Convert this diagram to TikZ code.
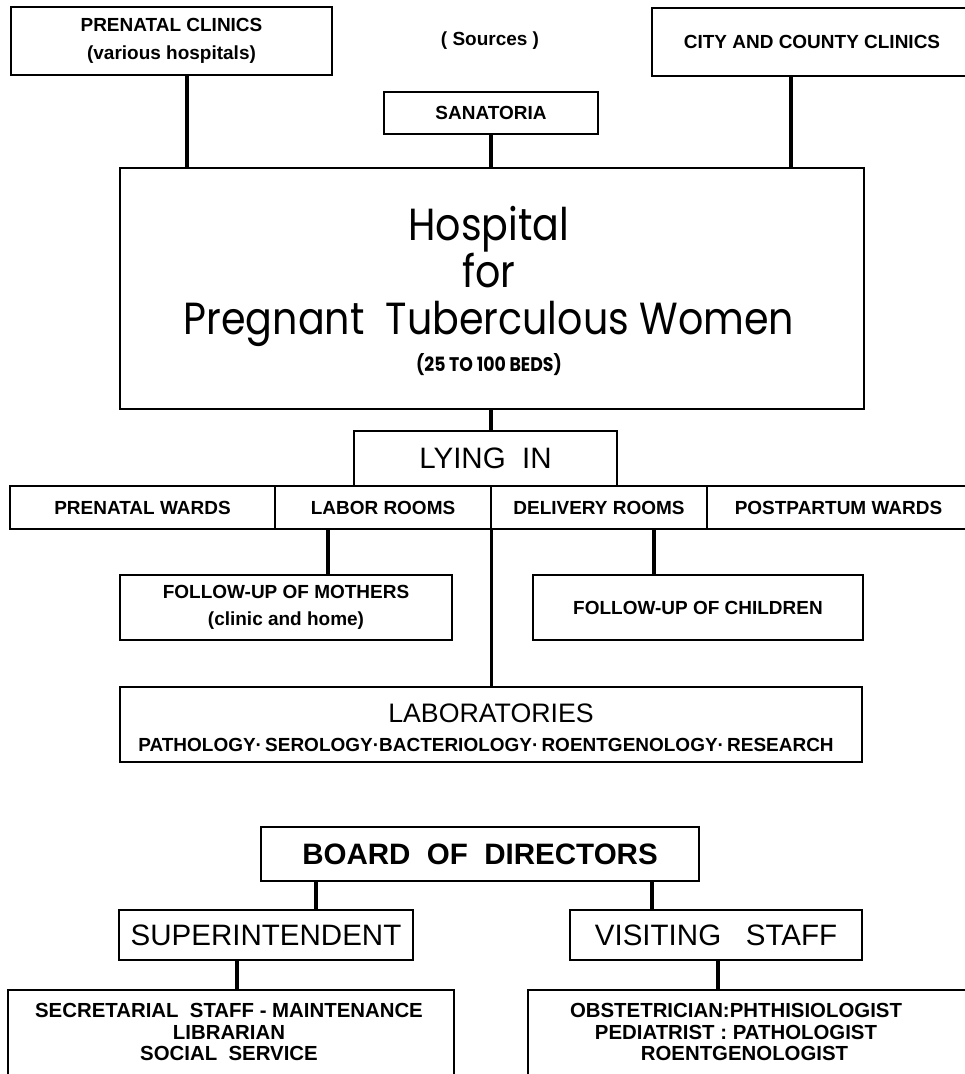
\documentclass[tikz,border=0pt]{standalone}
\usepackage{fontspec}
\setmainfont{Liberation Sans}
\newfontfamily\titlefont[FakeStretch=0.88]{Poppins}
\newcommand{\pxu}{0.025cm}

\begin{document}
\begin{tikzpicture}
[x=0.025cm, y=-0.025cm,
 lineDecorate/.style={line width=2.2pt},
 nodeDecorate/.style={shape=rectangle, draw, line width=1pt, inner sep=0pt, align=center},
 smallFont/.style={font=\bfseries\fontsize{13.5}{19.5}\selectfont, align=center},
 lowFont/.style={font=\bfseries\fontsize{14.5}{15.2}\selectfont, align=center},
 bigFont/.style={font=\fontsize{21}{25}\selectfont},
 titleFont/.style={font=\titlefont\fontsize{32}{32}\selectfont, anchor=base}]

\useasboundingbox (0,0) rectangle (965,1074);

\node (pc) at (171.5,41) [nodeDecorate, smallFont, minimum width=321*\pxu, minimum height=68*\pxu] {PRENATAL CLINICS\\(various hospitals)};
\node (src) at (490,41) [smallFont] {( Sources )};
\node (city) at (812,42) [nodeDecorate, smallFont, minimum width=320*\pxu, minimum height=68*\pxu] {CITY AND COUNTY CLINICS};
\node (sana) at (491,113) [nodeDecorate, smallFont, minimum width=214*\pxu, minimum height=42*\pxu] {SANATORIA};

\node (hosp) at (492,288.5) [nodeDecorate, minimum width=744*\pxu, minimum height=241*\pxu] {};
\node (h1) at (489,240) [titleFont] {Hospital};
\node (h2) at (489,287) [titleFont] {for};
\node (h3) at (489,334) [titleFont] {Pregnant\ \ Tuberculous Women};
\node (h4) at (489,371) [titleFont, font=\titlefont\bfseries\fontsize{14}{14}\selectfont] {(25 TO 100 BEDS)};

\node (lying) at (485.5,458.5) [nodeDecorate, bigFont, minimum width=263*\pxu, minimum height=55*\pxu] {LYING\ \ IN};

\foreach \lbl/\xa/\xb [count=\i] in {PRENATAL WARDS/10/275, LABOR ROOMS/275/491, DELIVERY ROOMS/491/707, POSTPARTUM WARDS/707/970}
{
          \node (R\i) at ({(\xa+\xb)/2},507.5) [nodeDecorate, smallFont, minimum width={(\xb-\xa)*\pxu}, minimum height=43*\pxu] {\lbl};
}

\node (moth) at (286,607.5) [nodeDecorate, smallFont, minimum width=332*\pxu, minimum height=65*\pxu] {FOLLOW-UP OF MOTHERS\\(clinic and home)};
\node (chil) at (698,607.5) [nodeDecorate, smallFont, minimum width=330*\pxu, minimum height=65*\pxu] {FOLLOW-UP OF CHILDREN};

\node (labs) at (491,724.5) [nodeDecorate, minimum width=742*\pxu, minimum height=75*\pxu] {};
\node (labsA) at (491,713) [font=\fontsize{19}{22}\selectfont] {LABORATORIES};
\node (labsB) at (486,745) [smallFont] {PATHOLOGY·\,SEROLOGY·BACTERIOLOGY·\,ROENTGENOLOGY·\,RESEARCH};

\node (board) at (480,854) [nodeDecorate, bigFont, font=\bfseries\fontsize{21}{25}\selectfont, minimum width=438*\pxu, minimum height=54*\pxu] {BOARD\ \ OF\ \ DIRECTORS};
\node (sup) at (266,935) [nodeDecorate, bigFont, minimum width=294*\pxu, minimum height=50*\pxu] {SUPERINTENDENT};
\node (vis) at (716,935) [nodeDecorate, bigFont, minimum width=292*\pxu, minimum height=50*\pxu] {VISITING\ \ \ STAFF};

\node (staffA) at (231,1035) [nodeDecorate, minimum width=446*\pxu, minimum height=90*\pxu] {};
\node (staffAtext) at (229,1032) [lowFont] {SECRETARIAL\ \ STAFF - MAINTENANCE\\LIBRARIAN\\SOCIAL\ \ SERVICE};
\node (staffB) at (750,1035) [nodeDecorate, minimum width=444*\pxu, minimum height=90*\pxu] {};
\node (staffBtext) at (736,1032) [lowFont] {OBSTETRICIAN:PHTHISIOLOGIST\\PEDIATRIST : PATHOLOGIST\\\ \ \ ROENTGENOLOGIST};

\coordinate (k1) at (187,0);
\coordinate (k2) at (491,0);
\coordinate (k3) at (791,0);
\coordinate (k4) at (328,0);
\coordinate (k5) at (654,0);
\coordinate (k6) at (316,0);
\coordinate (k7) at (652,0);
\coordinate (k8) at (237,0);
\coordinate (k9) at (718,0);

\path
(pc.south -| k1) edge[lineDecorate] (hosp.north -| k1)
(sana.south -| k2) edge[lineDecorate] (hosp.north -| k2)
(city.south -| k3) edge[lineDecorate] (hosp.north -| k3)
(hosp.south -| k2) edge[lineDecorate] (lying.north -| k2)
(R2.south east) edge[lineDecorate] (labs.north -| R2.south east)
(R2.south -| k4) edge[lineDecorate] (moth.north -| k4)
(R3.south -| k5) edge[lineDecorate] (chil.north -| k5)
(board.south -| k6) edge[lineDecorate] (sup.north -| k6)
(board.south -| k7) edge[lineDecorate] (vis.north -| k7)
(sup.south -| k8) edge[lineDecorate] (staffA.north -| k8)
(vis.south -| k9) edge[lineDecorate] (staffB.north -| k9);
\end{tikzpicture}
\end{document}
